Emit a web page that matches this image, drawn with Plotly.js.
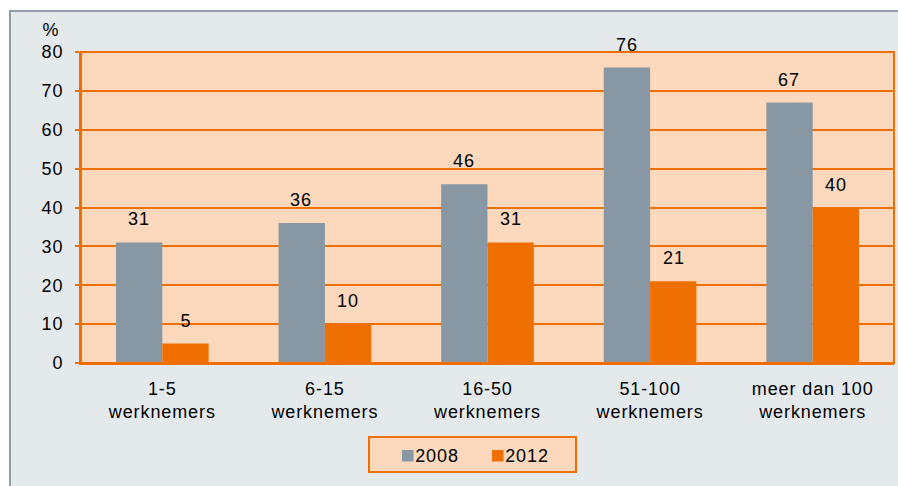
<!DOCTYPE html>
<html>
<head>
<meta charset="utf-8">
<script src="https://cdn.plot.ly/plotly-3.0.1.min.js"></script>
<style>
html,body{margin:0;padding:0;background:#ffffff;}
#frame{position:absolute;left:9px;top:10px;width:900px;height:490px;background:#e4e9ec;border-left:2px solid #8e9fab;border-top:2px solid #8e9fab;}
#chart{position:absolute;left:0;top:0;width:898px;height:486px;}
#chart svg text{letter-spacing:0.9px;}
</style>
</head>
<body>
<div id="frame"></div>
<div id="chart"></div>
<script>
var categories = ["1-5<br>werknemers", "6-15<br>werknemers", "16-50<br>werknemers", "51-100<br>werknemers", "meer dan 100<br>werknemers"];
var values2008 = [31, 36, 46, 76, 67];
var values2012 = [5, 10, 31, 21, 40];
var seriesNames = ["2008", "2012"];
var yTicks = [0, 10, 20, 30, 40, 50, 60, 70, 80];

var grey = "#8797a4";
var orange = "#ef7000";
var peach = "#fcd9bd";
var FONT = "Liberation Sans, Arial, sans-serif";
var FS = 18;

var traces = [
  {type: "bar", name: seriesNames[0], x: categories, y: values2008, marker: {color: grey}, hoverinfo: "none", showlegend: false},
  {type: "bar", name: seriesNames[1], x: categories, y: values2012, marker: {color: orange}, hoverinfo: "none", showlegend: false}
];

// plot area in pixels (for placing legend pieces)
var L = 81, R = 894, T = 52, B = 363;
function px(x) { return (x - L) / (R - L); }
function py(y) { return (B - y) / (B - T); }

var annotations = [];
function addLabels(vals, shift) {
  for (var i = 0; i < vals.length; i++) {
    annotations.push({
      x: categories[i], y: vals[i], xref: "x", yref: "y",
      text: String(vals[i]), showarrow: false,
      xshift: shift, yshift: 23, yanchor: "middle",
      font: {family: FONT, size: FS, color: "#000000"}
    });
  }
}
addLabels(values2008, -23.5);
addLabels(values2012, 23.5);
annotations.push({
  xref: "paper", yref: "paper", x: px(51), y: py(30), xanchor: "center", yanchor: "middle",
  text: "%", showarrow: false,
  font: {family: FONT, size: FS, color: "#000000"}
});

// manual legend
var legendColors = [grey, orange];
var legendSquareX = [402, 492];
var shapes = [
  {type: "rect", xref: "paper", yref: "paper", x0: 0, x1: 1, y0: 0, y1: 1, line: {color: orange, width: 2}, fillcolor: "rgba(0,0,0,0)"},
  {type: "rect", xref: "paper", yref: "paper", x0: px(369), x1: px(576), y0: py(472), y1: py(437), line: {color: orange, width: 2}, fillcolor: peach}
];
for (var k = 0; k < seriesNames.length; k++) {
  shapes.push({type: "rect", xref: "paper", yref: "paper",
    x0: px(legendSquareX[k]), x1: px(legendSquareX[k] + 11.5), y0: py(461.5), y1: py(450),
    line: {width: 0}, fillcolor: legendColors[k]});
  annotations.push({xref: "paper", yref: "paper", x: px(legendSquareX[k] + 13), y: py(455.5),
    xanchor: "left", yanchor: "middle", text: seriesNames[k], showarrow: false,
    font: {family: FONT, size: FS, color: "#000000"}});
}

var layout = {
  width: 898, height: 486,
  margin: {l: L, r: 898 - R, t: T, b: 486 - B},
  paper_bgcolor: "rgba(0,0,0,0)",
  plot_bgcolor: peach,
  barmode: "group",
  bargap: 0.43,
  bargroupgap: 0,
  font: {family: FONT, size: FS, color: "#000000"},
  xaxis: {
    type: "category",
    showgrid: false,
    showline: true, linecolor: orange, linewidth: 2,
    ticks: "", tickfont: {size: FS},
    ticklabelstandoff: 8
  },
  yaxis: {
    range: [0, 80],
    tickvals: yTicks,
    showgrid: true, gridcolor: orange, gridwidth: 2,
    showline: true, linecolor: orange, linewidth: 2,
    ticks: "outside", ticklen: 4, tickcolor: orange, tickwidth: 2,
    zeroline: false,
    tickfont: {size: FS},
    ticklabelstandoff: 8
  },
  showlegend: false,
  shapes: shapes,
  annotations: annotations
};

Plotly.newPlot("chart", traces, layout, {displayModeBar: false, staticPlot: true});
</script>
</body>
</html>
